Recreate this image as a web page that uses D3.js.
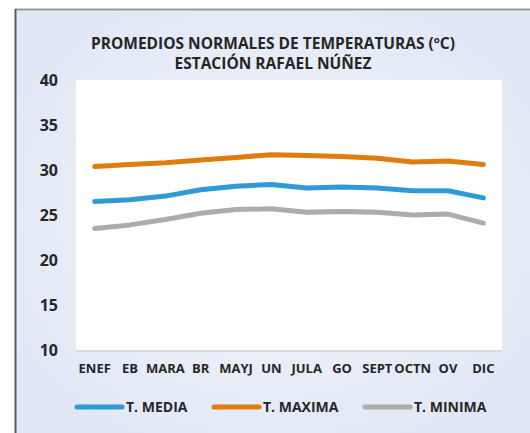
<!DOCTYPE html>
<html>
<head>
<meta charset="utf-8">
<script src="https://cdn.jsdelivr.net/npm/d3@7"></script>
<style>
  html, body { margin: 0; padding: 0; background: #fff; }
  svg { display: block; }
</style>
</head>
<body>
<svg id="chart" width="530" height="433"></svg>
<script>
// month labels exactly as they appear on the axis
const months = ['ENEF', 'EB', 'MARA', 'BR', 'MAYJ', 'UN', 'JULA', 'GO', 'SEPT', 'OCTN', 'OV', 'DIC'];
const tMedia = [26.5, 26.7, 27.1, 27.8, 28.2, 28.4, 28.0, 28.1, 28.0, 27.7, 27.7, 26.9];
const tMaxima = [30.4, 30.6, 30.8, 31.1, 31.4, 31.7, 31.6, 31.5, 31.3, 30.9, 31.0, 30.6];
const tMinima = [23.5, 23.9, 24.5, 25.2, 25.6, 25.7, 25.3, 25.4, 25.3, 25.0, 25.1, 24.1];
const yTicks = [10, 15, 20, 25, 30, 35, 40];
const seriesNames = ['T. MEDIA', 'T. MAXIMA', 'T. MINIMA'];
const seriesColors = ['#2e9bd6', '#e07b0f', '#acacac'];

const svg = d3.select('#chart');
const font = '"Open Sans", sans-serif';
const textColor = '#262626';

// background gradient
const defs = svg.append('defs');
const grad = defs.append('radialGradient').attr('id', 'bg')
  .attr('cx', '50%').attr('cy', '50%').attr('r', '65%');
grad.append('stop').attr('offset', '0%').attr('stop-color', '#f3f6fb');
grad.append('stop').attr('offset', '100%').attr('stop-color', '#dfe6f4');

svg.append('rect')
  .attr('x', 16).attr('y', 10).attr('width', 514).attr('height', 423)
  .attr('fill', 'url(#bg)');
svg.append('line').attr('x1', 15).attr('x2', 530).attr('y1', 9.5).attr('y2', 9.5)
  .attr('stroke', '#9a9a9a').attr('stroke-width', 2);
svg.append('line').attr('x1', 15.5).attr('x2', 15.5).attr('y1', 9).attr('y2', 433)
  .attr('stroke', '#5a5a5a').attr('stroke-width', 2);

// title
svg.append('text')
  .attr('x', 273).attr('y', 49)
  .attr('text-anchor', 'middle')
  .attr('font-family', font).attr('font-weight', 'bold').attr('font-size', '15.5px')
  .attr('fill', textColor)
  .text('PROMEDIOS NORMALES DE TEMPERATURAS (ºC)');
svg.append('text')
  .attr('x', 273).attr('y', 69)
  .attr('text-anchor', 'middle')
  .attr('font-family', font).attr('font-weight', 'bold').attr('font-size', '15.5px')
  .attr('fill', textColor)
  .text('ESTACIÓN RAFAEL NÚÑEZ');

const plot = { left: 76, right: 502, top: 80, bottom: 350 };

const xScale = d3.scaleBand().domain(months).range([plot.left + 1, plot.right - 1]);
const yScale = d3.scaleLinear().domain([10, 40]).range([plot.bottom, plot.top]);

// plot area
svg.append('rect')
  .attr('x', plot.left).attr('y', plot.top)
  .attr('width', plot.right - plot.left).attr('height', plot.bottom - plot.top)
  .attr('fill', '#ffffff');

// x axis
const xAxis = svg.append('g')
  .attr('transform', 'translate(0,' + plot.bottom + ')')
  .call(d3.axisBottom(xScale).tickSize(0).tickPadding(14));
xAxis.select('.domain')
  .attr('stroke', '#d9d9d9').attr('stroke-width', 2)
  .attr('d', 'M' + plot.left + ',1H' + plot.right);
xAxis.selectAll('text')
  .attr('font-family', font).attr('font-weight', 'bold').attr('font-size', '13px')
  .attr('fill', textColor);

// y axis
const yAxis = svg.append('g')
  .attr('transform', 'translate(' + plot.left + ',0)')
  .call(d3.axisLeft(yScale).tickValues(yTicks).tickSize(0).tickPadding(18));
yAxis.select('.domain').remove();
yAxis.selectAll('text')
  .attr('font-family', font).attr('font-weight', 'bold').attr('font-size', '16px')
  .attr('fill', textColor);

// lines
const line = d3.line()
  .x((d, i) => xScale(months[i]) + xScale.bandwidth() / 2)
  .y((d) => yScale(d));

[tMedia, tMaxima, tMinima].forEach((values, i) => {
  svg.append('path')
    .datum(values)
    .attr('fill', 'none')
    .attr('stroke', seriesColors[i])
    .attr('stroke-width', 5)
    .attr('stroke-linecap', 'round')
    .attr('stroke-linejoin', 'round')
    .attr('d', line);
});

// legend
const legendX = [75, 212, 363];
const legend = svg.append('g');
seriesNames.forEach((name, i) => {
  legend.append('line')
    .attr('x1', legendX[i] + 2).attr('x2', legendX[i] + 47)
    .attr('y1', 407).attr('y2', 407)
    .attr('stroke', seriesColors[i]).attr('stroke-width', 5)
    .attr('stroke-linecap', 'round');
  legend.append('text')
    .attr('x', legendX[i] + 51).attr('y', 412)
    .attr('font-family', font).attr('font-weight', 'bold').attr('font-size', '14px')
    .attr('fill', textColor)
    .text(name);
});
</script>
</body>
</html>
